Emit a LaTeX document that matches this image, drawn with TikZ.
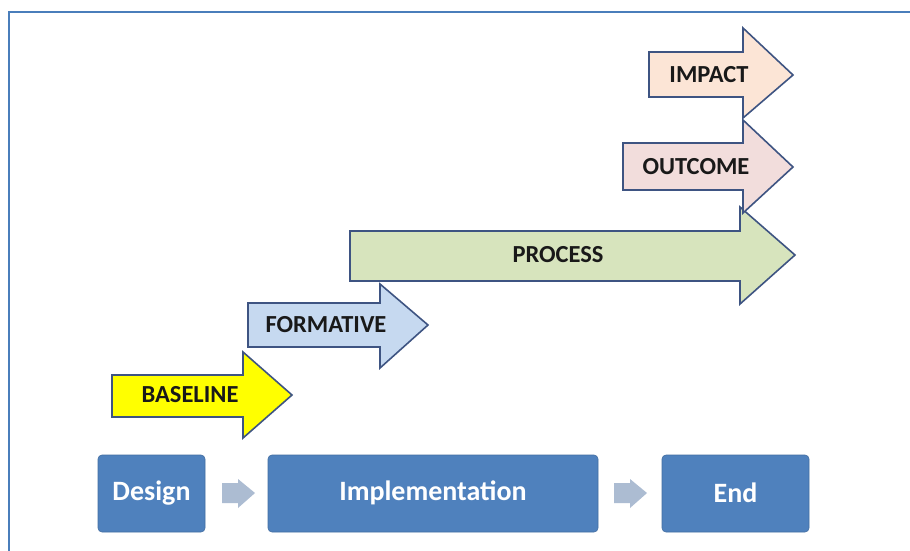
\documentclass[tikz,border=0pt]{standalone}
\usepackage{fontspec}
\setmainfont{Carlito}
\definecolor{frameblue}{RGB}{74,126,187}
\definecolor{outl}{RGB}{62,84,130}
\definecolor{boxblue}{RGB}{79,129,189}
\definecolor{smallarr}{RGB}{172,188,210}
\definecolor{cBase}{RGB}{255,255,0}
\definecolor{cForm}{RGB}{198,217,240}
\definecolor{cProc}{RGB}{215,228,189}
\definecolor{cOut}{RGB}{242,221,220}
\definecolor{cImp}{RGB}{252,229,214}
\tikzset{
  bigarrow/.style={draw=outl, line width=1.6pt, line join=miter},
  arrlabel/.style={font=\bfseries\fontsize{24.5}{27}\selectfont, text=black!90, inner sep=0pt},
  phasebox/.style={fill=boxblue, draw=boxblue!85!black, line width=0.6pt, rounded corners=4pt},
  phaselabel/.style={font=\bfseries\fontsize{28}{31}\selectfont, text=white, inner sep=0pt},
  smallarrow/.style={fill=smallarr, draw=none}
}
\begin{document}
\begin{tikzpicture}[x=1pt,y=-1pt]
\useasboundingbox (0,0) rectangle (910,550);
\fill[white] (0,0) rectangle (910,550);
% frame
\draw[frameblue, line width=2pt] (9,560) -- (9,12) -- (920,12);
% baseline
\draw[bigarrow, fill=cBase] (112,375) -- (243,375) -- (243,352) -- (292,395) -- (243,438) -- (243,417) -- (112,417) -- cycle;
\node[arrlabel] (baseline) at (190,395) {BASELINE};
% formative
\draw[bigarrow, fill=cForm] (248,303) -- (380,303) -- (380,284) -- (428,325) -- (380,368) -- (380,347) -- (248,347) -- cycle;
\node[arrlabel] (formative) at (326,325) {FORMATIVE};
% process
\draw[bigarrow, fill=cProc] (350,231) -- (740,231) -- (740,207) -- (795,255) -- (740,304) -- (740,281) -- (350,281) -- cycle;
\node[arrlabel] (process) at (558,255) {PROCESS};
% outcome
\draw[bigarrow, fill=cOut] (623,143) -- (743,143) -- (743,120) -- (793,167) -- (743,213) -- (743,190) -- (623,190) -- cycle;
\node[arrlabel] (outcome) at (696,167) {OUTCOME};
% impact
\draw[bigarrow, fill=cImp] (649,52) -- (743,52) -- (743,28) -- (793,75) -- (743,118) -- (743,97) -- (649,97) -- cycle;
\node[arrlabel] (impact) at (709,75) {IMPACT};
% bottom phases
\draw[phasebox] (98,455) rectangle (205,532);
\node[phaselabel] (design) at (151.5,493) {Design};
\draw[phasebox] (268,455) rectangle (598,532);
\node[phaselabel] (impl) at (433,493) {Implementation};
\draw[phasebox] (662,455) rectangle (809,532);
\node[phaselabel] (end) at (735.5,493) {End};
% small arrows
\fill[smallarr] (222,483) -- (238,483) -- (238,479) -- (255,493) -- (238,508) -- (238,503) -- (222,503) -- cycle;
\fill[smallarr] (614,483) -- (630,483) -- (630,479) -- (647,493) -- (630,508) -- (630,503) -- (614,503) -- cycle;
\end{tikzpicture}
\end{document}
